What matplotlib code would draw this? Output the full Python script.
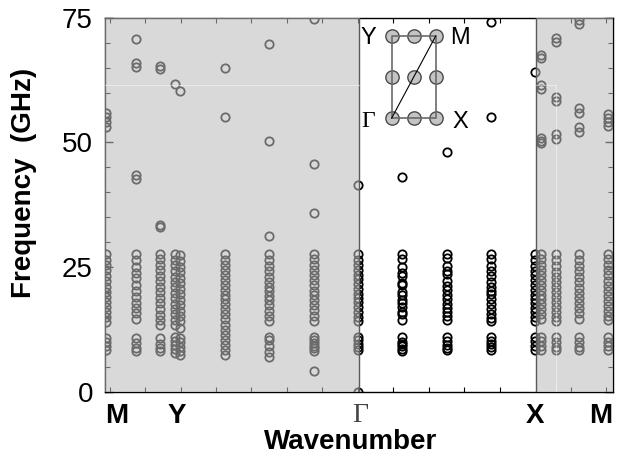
import matplotlib
matplotlib.use("Agg")
import matplotlib.pyplot as plt
import numpy as np

plt.rcParams['font.family'] = ['Liberation Sans', 'DejaVu Sans']

#%% Data: frequency (GHz) of every mode, one list per wavenumber column
# wavenumber position of each column (path units: M=0, Y=2, Gamma=7, X=12, M=14)
k_cols = [-0.10, 0.75, 1.41, 1.85, 1.99, 3.24, 4.49, 5.76, 6.99,
          8.25, 9.51, 10.75, 11.99, 12.15, 12.58, 13.23, 14.04]

f_c0 = [56.0, 55.1, 54.2, 53.2, 27.6, 26.5, 25.4, 24.3, 23.2, 22.1, 21.0, 20.0, 19.0, 18.0,
        17.0, 16.0, 15.0, 14.0, 10.8, 10.0, 9.2, 8.3]
f_c1 = [70.7, 66.0, 65.2, 43.5, 42.6, 27.6, 26.4, 25.0, 23.8, 22.7, 21.4, 20.2, 18.9, 17.8,
        16.8, 15.7, 14.6, 10.7, 9.7, 8.7, 8.2]
f_c2 = [65.3, 64.7, 33.5, 33.0, 27.6, 26.6, 25.4, 24.4, 23.2, 22.1, 21.0, 19.9, 18.8, 17.7,
        16.6, 15.4, 14.3, 13.3, 10.7, 9.6, 8.8, 8.1]
f_c3 = [61.7, 27.6, 26.5, 25.4, 24.2, 23.0, 21.9, 20.9, 19.8, 18.7, 17.6, 16.5, 15.5, 14.4,
        13.3, 11.0, 10.2, 9.4, 8.6, 7.8]
f_c4 = [60.4, 27.5, 26.3, 25.0, 23.9, 22.8, 21.8, 20.6, 19.5, 18.4, 17.3, 16.2, 15.1, 14.1,
        12.8, 10.8, 9.9, 9.0, 8.1, 7.4]
f_c5 = [65.0, 55.2, 27.6, 26.5, 25.4, 24.3, 23.3, 22.3, 21.3, 20.3, 19.4, 18.5, 17.5, 16.5,
        15.5, 14.5, 13.4, 12.4, 11.3, 10.3, 9.3, 8.3, 7.3]
f_c6 = [69.8, 50.4, 31.3, 27.6, 26.4, 25.2, 24.1, 23.0, 22.0, 21.0, 20.1, 19.2, 18.3, 17.3,
        16.2, 15.2, 14.1, 11.0, 10.3, 9.1, 8.0, 6.9]
f_c7 = [74.7, 45.6, 35.9, 27.6, 26.6, 25.5, 24.4, 23.4, 22.3, 21.3, 20.2, 19.3, 18.4, 17.4,
        16.3, 15.2, 14.1, 11.0, 10.4, 9.8, 9.2, 8.7, 8.2, 4.1]
f_c8 = [41.4, 27.6, 26.5, 25.4, 24.4, 23.4, 22.5, 21.5, 20.5, 19.6, 18.8, 17.9, 16.9, 15.9,
        15.0, 14.1, 11.0, 10.3, 9.6, 9.0, 8.3, 0.0]
f_w1 = [43.1, 27.6, 26.6, 25.0, 23.7, 23.2, 21.8, 21.4, 20.0, 19.4, 18.4, 17.7, 17.0, 16.0,
        15.6, 14.4, 10.9, 10.0, 9.5, 9.1, 8.6, 8.2]
f_w2 = [48.0, 27.6, 26.8, 25.3, 24.1, 23.5, 22.2, 21.2, 20.3, 19.3, 18.6, 17.6, 16.8, 15.9,
        15.1, 14.3, 10.9, 10.1, 9.4, 8.8, 8.3]
f_w3 = [74.1, 55.2, 27.6, 26.7, 25.2, 24.2, 23.1, 22.0, 21.0, 20.2, 19.5, 18.6, 17.6, 16.6,
        15.6, 14.7, 14.2, 10.9, 10.2, 9.5, 8.9, 8.3]
f_w4 = [64.2, 27.6, 26.5, 25.3, 24.2, 23.3, 22.3, 21.3, 20.3, 19.4, 18.6, 17.7, 16.8, 15.9,
        15.0, 14.2, 10.9, 10.1, 9.2, 8.4]
f_r1 = [67.6, 66.9, 61.5, 60.7, 51.0, 50.4, 49.9, 27.6, 26.6, 25.5, 24.4, 23.4, 22.3, 21.3,
        20.3, 19.4, 18.5, 17.5, 16.5, 15.5, 14.5, 10.9, 10.1, 9.2, 8.4]
f_r2 = [70.9, 70.2, 59.1, 58.4, 51.8, 50.8, 27.6, 26.4, 25.2, 24.0, 23.0, 22.0, 21.0, 20.0,
        19.0, 18.0, 17.0, 16.0, 15.0, 14.2, 10.9, 9.9, 8.9, 8.3]
f_r3 = [74.6, 73.8, 56.9, 55.9, 53.2, 52.2, 27.6, 26.5, 25.3, 24.2, 23.0, 21.9, 20.8, 19.8,
        18.8, 17.8, 16.7, 15.7, 14.6, 10.9, 9.9, 8.9, 8.3]
f_r4 = [55.8, 55.0, 54.2, 53.4, 27.6, 26.6, 25.5, 24.4, 23.3, 22.2, 21.2, 20.2, 19.2, 18.2,
        17.2, 16.2, 15.2, 14.3, 10.9, 10.0, 9.2, 8.4]

f_cols = [f_c0, f_c1, f_c2, f_c3, f_c4, f_c5, f_c6, f_c7, f_c8,
          f_w1, f_w2, f_w3, f_w4, f_r1, f_r2, f_r3, f_r4]

x_tick_pos = [0.2, 1.9, 7.05, 12.0, 13.85]
x_tick_lab = ['M', 'Y', 'Γ', 'X', 'M']

# Brillouin zone sketch (lattice points)
bz_x = [0, 1, 2]
bz_y = [0, 1, 2]

#%% Plot
W, H = 630, 465
fig = plt.figure(figsize=(W / 100, H / 100), dpi=100)
L, R, T, B = 105.5, 612.5, 18, 391.5
ax = fig.add_axes([L / W, 1 - B / H, (R - L) / W, (B - T) / H])

for k, fs in zip(k_cols, f_cols):
    ax.plot(np.full(len(fs), k), fs, 'o', ms=6.0, mfc='none', mec='k', mew=1.3, zorder=3)

xmin, xmax = -0.113, 14.17
ax.set_xlim(xmin, xmax)
ax.set_ylim(0, 75)

# grey shading over the two outer parts of the path
g_left, g_right = 7.04, 12.01
ax.axvspan(xmin, g_left, facecolor=(0.74, 0.74, 0.74), alpha=0.57, lw=0, zorder=5)
ax.axvspan(g_right, xmax, facecolor=(0.74, 0.74, 0.74), alpha=0.57, lw=0, zorder=5)
ax.axvline(g_left, color='#5a5a5a', lw=1.0, zorder=6)
ax.axvline(g_right, color='#5a5a5a', lw=1.0, zorder=6)
# faint seams in the shaded panels
ax.plot([xmin, g_left], [61.5, 61.5], color='white', alpha=0.45, lw=0.8, zorder=6)
ax.plot([g_right, 12.58], [61.5, 61.5], color='white', alpha=0.45, lw=0.8, zorder=6)
ax.plot([12.58, 12.58], [0, 61.5], color='white', alpha=0.45, lw=0.8, zorder=6)

for s in ax.spines.values():
    s.set_linewidth(1.0)

ax.set_yticks([0, 25, 50, 75])
ax.set_yticks(np.arange(0, 76, 5), minor=True)
ax.set_xticks(np.arange(0, 15, 1), minor=True)
ax.set_xticks(x_tick_pos, x_tick_lab)
ax.tick_params(axis='y', which='both', direction='in', left=True, right=True,
               labelsize=20, pad=9)
ax.tick_params(axis='y', which='major', length=6, width=1)
ax.tick_params(axis='y', which='minor', length=3.5, width=0.8)
ax.tick_params(axis='x', which='minor', direction='in', top=True, bottom=True,
               length=3.5, width=0.8)
ax.tick_params(axis='x', which='major', length=0, labelsize=20, pad=8)
for lbl in ax.get_xticklabels():
    if lbl.get_text() == 'Γ':
        lbl.set_fontfamily('Liberation Serif')
        lbl.set_color('#444444')
    else:
        lbl.set_fontweight('bold')

ax.set_ylabel('Frequency  (GHz)', fontsize=20, fontweight='bold')
ax.yaxis.set_label_coords(-0.135, 0.558)
ax.set_xlabel('Wavenumber', fontsize=20, fontweight='bold')
ax.xaxis.set_label_coords(0.484, -0.1)

#%% Inset: Brillouin zone
iL, iR, iT, iB = 384, 443, 29, 125
ins = fig.add_axes([iL / W, 1 - iB / H, (iR - iL) / W, (iB - iT) / H])
ins.set_xlim(-0.35, 2.33)
ins.set_ylim(-0.17, 2.17)
ins.axis('off')
gx, gy = np.meshgrid(bz_x, bz_y)
ins.plot(gx.ravel(), gy.ravel(), 'o', ms=9.6, mfc='#c4c4c4', mec='#4a4a4a', mew=1.0,
         clip_on=False, zorder=2)
ins.plot([0, 2, 2, 0, 0], [0, 0, 2, 2, 0], color='#6a6a6a', lw=1.2, zorder=3, clip_on=False)
ins.plot([0, 2], [0, 2], color='k', lw=0.8, zorder=4, clip_on=False)

def figpx(x, y):
    return x / W, 1 - y / H

fig.text(*figpx(368, 38), 'Y', fontsize=17, ha='center', va='center')
fig.text(*figpx(460, 38), 'M', fontsize=17, ha='center', va='center')
fig.text(*figpx(368, 121), 'Γ', fontsize=17, ha='center', va='center',
         family='Liberation Serif')
fig.text(*figpx(460, 122), 'X', fontsize=17, ha='center', va='center')

fig.savefig('out.png', dpi=100)
